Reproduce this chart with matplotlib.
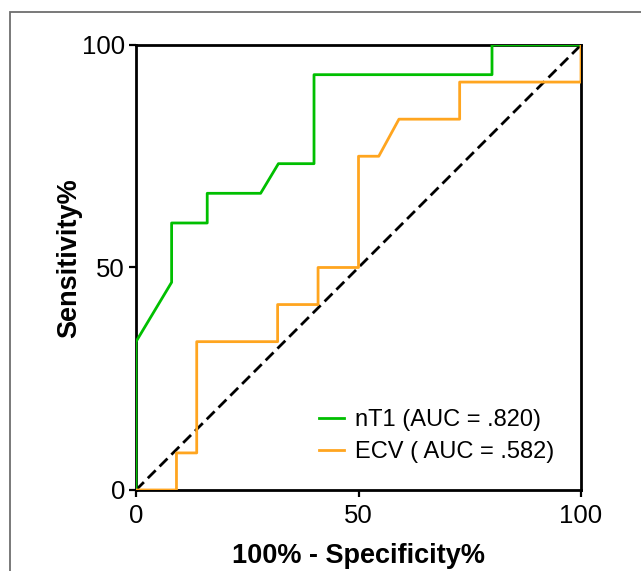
import matplotlib
matplotlib.use("Agg")
import matplotlib.pyplot as plt
from matplotlib.patches import Rectangle

plt.rcParams['font.family'] = ['Liberation Sans', 'DejaVu Sans']

# ROC points, x = 100% - specificity%, y = sensitivity%
nt1_x = [0, 0, 8, 8, 16, 16, 28, 32, 40, 40, 80, 80, 100]
nt1_y = [0, 33.33, 46.67, 60, 60, 66.67, 66.67, 73.33, 73.33, 93.33, 93.33, 100, 100]

ecv_x = [0, 9.09, 9.09, 13.64, 13.64, 31.82, 31.82, 40.91, 40.91, 50, 50, 54.55, 59.09, 72.73, 72.73, 100, 100]
ecv_y = [0, 0, 8.33, 8.33, 33.33, 33.33, 41.67, 41.67, 50, 50, 75, 75, 83.33, 83.33, 91.67, 91.67, 100]

ticks = [0, 50, 100]
nt1_label = "nT1 (AUC = .820)"
ecv_label = "ECV ( AUC = .582)"

fig = plt.figure(figsize=(6.41, 5.71), dpi=100)
ax = fig.add_axes([0.2122, 0.1419, 0.6942, 0.7793])

# grey frame around the panel
fig.patches.append(Rectangle((9.5/641, -0.05), 1.1, 1 - 12/571 + 0.05, transform=fig.transFigure,
                             fill=False, edgecolor='#6e6e6e', linewidth=1.3))

ax.plot([0, 100], [0, 100], color='black', linestyle=(0, (4, 2)), linewidth=2, zorder=2)
ax.plot(nt1_x, nt1_y, color='#00BF00', linewidth=2, label=nt1_label, zorder=3)
ax.plot(ecv_x, ecv_y, color='#FFA51F', linewidth=2, label=ecv_label, zorder=3)

ax.set_xlim(0, 100)
ax.set_ylim(0, 100)
ax.set_xticks(ticks)
ax.set_yticks(ticks)
ax.tick_params(direction='out', length=5, width=1.6, labelsize=18.5, pad=3)
ax.tick_params(axis='x', pad=5)
for s in ax.spines.values():
    s.set_linewidth(2)

ax.set_xlabel("100% - Specificity%", fontsize=19.5, fontweight='bold', labelpad=11)
ax.set_ylabel("Sensitivity%", fontsize=19.5, fontweight='bold')
ax.yaxis.set_label_coords(-0.12, 0.52)

ax.legend(loc='center left', bbox_to_anchor=(0.389, 0.121), frameon=False, fontsize=17,
          handlelength=1.06, handletextpad=0.5, labelspacing=0.4, borderaxespad=0)

fig.savefig("out.png", dpi=100)
